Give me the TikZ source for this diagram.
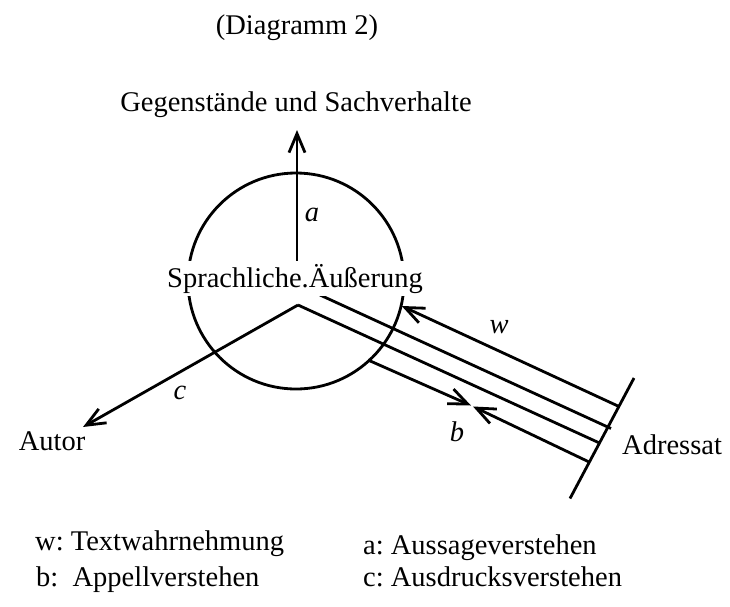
\documentclass[tikz,border=0pt]{standalone}
\usepackage{fontspec}
\setmainfont{Liberation Serif}
\usetikzlibrary{arrows.meta}
\begin{document}
\frenchspacing
\begin{tikzpicture}[x=1pt,y=-1pt,
  txt/.style={inner sep=0pt, font=\fontsize{28.5}{34}\selectfont},
  lbl/.style={inner sep=0pt, font=\fontsize{28.5}{34}\selectfont\itshape},
  ln/.style={line width=2.8pt, line cap=butt},
  arr/.style={ln, -{Straight Barb[length=19pt,width=16pt,line width=2.8pt]}}]
\fill[white] (0,0) rectangle (730,606);
\useasboundingbox (0,0) rectangle (730,606);
% titles
\node[txt, anchor=base] (title) at (297,34) {(Diagramm 2)};
\node[txt, anchor=base] (gegen) at (296,111) {Gegenstände und Sachverhalte};
% coordinates
\coordinate (abase) at (297,265);
\coordinate (atip) at (297,130);
\coordinate (apex) at (298,305);
\coordinate (autortip) at (83,427);
\coordinate (wend) at (619,406.5);
\coordinate (wtip) at (401.7,306);
\coordinate (bstart) at (320,295);
\coordinate (bend) at (611,428.5);
\coordinate (cend) at (599.5,443);
\coordinate (dstart) at (368,360);
\coordinate (dmid1) at (471,405.5);
\coordinate (dend) at (588.5,461.7);
\coordinate (dmid2) at (473,406.5);
\coordinate (bartop) at (634,378);
\coordinate (barbot) at (570,498.5);
% circle
\node[circle, draw, ln, minimum size=216pt, inner sep=0pt] (circ) at (296,281) {};
% arrows
\draw[arr] (abase) -- (atip);
\draw[arr] (apex) -- (autortip);
\draw[ln] (apex) -- (cend);
\draw[ln] (bstart) -- (bend);
\draw[arr] (wend) -- (wtip);
\draw[arr] (dstart) -- (dmid1);
\draw[arr] (dend) -- (dmid2);
\draw[ln] (bartop) -- (barbot);
\node[txt, anchor=base, fill=white, inner xsep=2pt, inner ysep=3pt] (spr) at (295,287) {Sprachliche.Äußerung};
% labels
\node[lbl] (la) at (312,215) {a};
\node[lbl] (lc) at (180,393) {c};
\node[lbl] (lw) at (499,327) {w};
\node[lbl] (lb) at (457,432) {b};
\node[txt, anchor=base] (autor) at (52,450) {Autor};
\node[txt, anchor=base west] (adressat) at (622,454) {Adressat};
% legend
\node[txt, anchor=base west] (leg1) at (35,550) {w: Textwahrnehmung};
\node[txt, anchor=base west] (leg2) at (36,586) {b:\ \ Appellverstehen};
\node[txt, anchor=base west] (leg3) at (363,554) {a: Aussageverstehen};
\node[txt, anchor=base west] (leg4) at (363,586) {c: Ausdrucksverstehen};
\end{tikzpicture}
\end{document}
